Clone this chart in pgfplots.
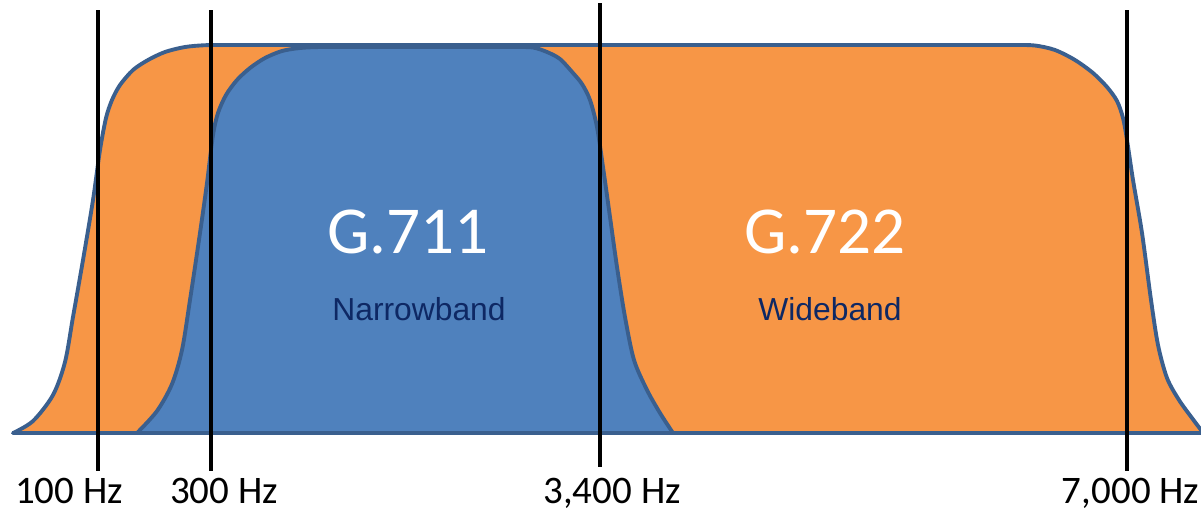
\documentclass[border=0pt]{standalone}
\usepackage{pgfplots}
\pgfplotsset{compat=1.18}
\usepackage{fontspec}
\setmainfont{Carlito}
\newfontfamily\arialfont{Liberation Sans}

\definecolor{wideorange}{HTML}{F79646}
\definecolor{narrowblue}{HTML}{4F81BD}
\definecolor{edgeblue}{HTML}{3A5F8E}
\definecolor{navytext}{RGB}{14,40,100}

\begin{document}
\begin{tikzpicture}
\begin{axis}[
    width=12.01cm, height=5.21cm, scale only axis,
    xmin=0, xmax=1201, ymin=0, ymax=521,
    y dir=reverse,
    hide axis, clip=false,
]
% wideband (G.722) response, pixel coordinates
\addplot[fill=wideorange, draw=edgeblue, line width=1.1pt, smooth, tension=0.5, line join=round]
 coordinates {
  (13,433) (33,421) (53,395) (65,362) (73,317) (83,260) (93,200)
  (100,150) (106,118) (112,100) (120,85) (133,70) (148,60) (165,52)
  (185,47) (205,45.2) (225,45) (250,45) (290,45) (340,45) (400,45)
  (470,45) (540,45) (610,45) (680,45) (750,45) (820,45) (890,45)
  (950,45) (990,45) (1015,45) (1035,45.5) (1055,50) (1075,60)
  (1093,73) (1107,87) (1117,101) (1123,118) (1127,140) (1133,180)
  (1142,233) (1151,300) (1158,345) (1167,378) (1179,400) (1192,418) (1201,430)
 } -- (axis cs:1201,433) -- cycle;
% narrowband (G.711) response
\addplot[fill=narrowblue, draw=edgeblue, line width=1.1pt, smooth, tension=0.5, line join=round]
 coordinates {
  (137,433) (157,411) (172,384) (182,350) (190,300) (200,233)
  (207,183) (213,135) (218,113) (226,95) (237,80) (250,68) (265,58)
  (282,51) (300,48) (320,47) (350,47) (390,47) (430,47) (470,47)
  (495,47) (515,47) (533,47.5) (547,52) (560,59) (573,73) (582,84)
  (590,100) (597,127) (603,167) (610,217)
  (617,267) (625,317) (634,360) (647,390) (660,413) (673,433)
 } -- cycle;
% cut-off frequencies
\addplot[black, line width=1.3pt] coordinates {(98,10) (98,471)};
\addplot[black, line width=1.3pt] coordinates {(211,10) (211,471)};
\addplot[black, line width=1.3pt] coordinates {(600,3) (600,467)};
\addplot[black, line width=1.3pt] coordinates {(1127,10) (1127,471)};

\node[anchor=base, text=white, font=\fontsize{19.1}{22}\selectfont] at (axis cs:408,253) {G.711};
\node[anchor=base, text=white, font=\fontsize{19.1}{22}\selectfont] at (axis cs:825,253) {G.722};
\node[anchor=base, text=navytext, font=\arialfont\fontsize{9.05}{11}\selectfont] at (axis cs:419,320) {Narrowband};
\node[anchor=base, text=navytext, font=\arialfont\fontsize{9.05}{11}\selectfont] at (axis cs:830,320) {Wideband};

\node[anchor=base, font=\fontsize{11.1}{13}\selectfont, inner sep=0pt] at (axis cs:69,503) {100 Hz};
\node[anchor=base, font=\fontsize{11.1}{13}\selectfont, inner sep=0pt] at (axis cs:224,503) {300 Hz};
\node[anchor=base, font=\fontsize{11.1}{13}\selectfont, inner sep=0pt] at (axis cs:612,503) {3,400 Hz};
\node[anchor=base east, font=\fontsize{11.1}{13}\selectfont, inner sep=0pt] at (axis cs:1200,503) {7,000 Hz};
\end{axis}
\pgfresetboundingbox
\path[use as bounding box] (current axis.south west) rectangle (current axis.north east);
\end{tikzpicture}
\end{document}
